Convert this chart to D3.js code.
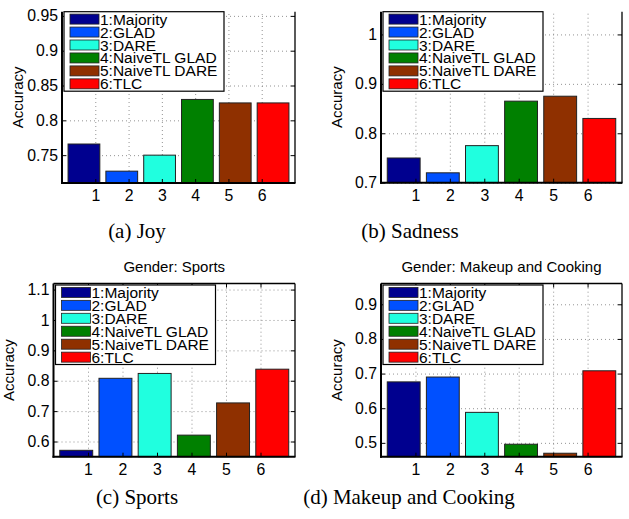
<!DOCTYPE html>
<html>
<head>
<meta charset="utf-8">
<script src="https://cdn.jsdelivr.net/npm/d3@7"></script>
<style>
  body { margin: 0; background: #fff; }
  svg { display: block; }
  text { font-family: "Liberation Sans", Arial, Helvetica, sans-serif; fill: #000; }
  .caption { font-family: "Liberation Serif", "Times New Roman", serif; }
</style>
</head>
<body>
<svg id="fig" width="629" height="519"></svg>
<script>
// ---- data ----
const methods = ['1:Majority', '2:GLAD', '3:DARE', '4:NaiveTL GLAD', '5:NaiveTL DARE', '6:TLC'];
const xTickLabels = ['1', '2', '3', '4', '5', '6'];

const joyAcc     = [0.766, 0.727, 0.750, 0.830, 0.825, 0.825];
const sadnessAcc = [0.750, 0.720, 0.775, 0.865, 0.875, 0.830];
const sportsAcc  = [0.571, 0.808, 0.824, 0.621, 0.727, 0.838];
const makeupAcc  = [0.676, 0.690, 0.588, 0.496, 0.470, 0.708];

const joyTicks     = [0.75, 0.8, 0.85, 0.9, 0.95];
const sadnessTicks = [0.7, 0.8, 0.9, 1];
const sportsTicks  = [0.6, 0.7, 0.8, 0.9, 1, 1.1];
const makeupTicks  = [0.5, 0.6, 0.7, 0.8, 0.9];

const joyLim     = [0.71, 0.956];
const sadnessLim = [0.70, 1.046];
const sportsLim  = [0.55, 1.12];
const makeupLim  = [0.46, 0.96];

const captions = ['(a) Joy', '(b) Sadness', '(c) Sports', '(d) Makeup and Cooking'];
const titles   = ['', '', 'Gender: Sports', 'Gender: Makeup and Cooking'];

// matlab-ish bar colours
const colors = ['#00008f', '#0050ff', '#20ffdf', '#008000', '#8f3000', '#ff0000'];

// panel boxes (top of a/b is cropped in the source figure)
const panels = [
  { vals: joyAcc,     ticks: joyTicks,     lim: joyLim,     x0: 62,  x1: 295, y0: 11.7,  y1: 183,   crop: true,  capX: 137, capY: 238 },
  { vals: sadnessAcc, ticks: sadnessTicks, lim: sadnessLim, x0: 381, x1: 622, y0: 11.7,  y1: 182.7, crop: true,  capX: 410, capY: 238 },
  { vals: sportsAcc,  ticks: sportsTicks,  lim: sportsLim,  x0: 53.5,x1: 295, y0: 283.5, y1: 456.7, crop: false, capX: 137, capY: 504 },
  { vals: makeupAcc,  ticks: makeupTicks,  lim: makeupLim,  x0: 381, x1: 622, y0: 283.5, y1: 456.7, crop: false, capX: 409, capY: 504 }
];

const svg = d3.select('#fig');

panels.forEach((p, i) => {
  const g = svg.append('g');
  const w = p.x1 - p.x0;
  const h = p.y1 - p.y0;

  const y = d3.scaleLinear().domain(p.lim).range([p.y1, p.y0]);
  // tick positions sit on 0..7, bars are spread a bit wider
  const xTick = d3.scaleLinear().domain([0, 7]).range([p.x0, p.x1]);
  const xBar = d3.scaleBand().domain(d3.range(6)).range([p.x0, p.x1]).padding(0.16);

  // grid
  g.append('g')
    .attr('transform', `translate(${p.x0},0)`)
    .call(d3.axisLeft(y).tickValues(p.ticks).tickSize(-w).tickFormat(''))
    .call(a => a.select('.domain').remove())
    .call(a => a.selectAll('line').attr('stroke', '#777').attr('stroke-dasharray', '1,3').attr('stroke-width', 0.8));
  g.append('g')
    .attr('transform', `translate(0,${p.y1})`)
    .call(d3.axisBottom(xTick).tickValues([1, 2, 3, 4, 5, 6]).tickSize(-h).tickFormat(''))
    .call(a => a.select('.domain').remove())
    .call(a => a.selectAll('line').attr('stroke', '#777').attr('stroke-dasharray', '1,3').attr('stroke-width', 0.8));

  // bars
  g.selectAll('rect.bar')
    .data(p.vals)
    .join('rect')
    .attr('class', 'bar')
    .attr('x', (d, j) => xBar(j))
    .attr('width', xBar.bandwidth())
    .attr('y', d => y(d))
    .attr('height', d => y(p.lim[0]) - y(d))
    .attr('fill', (d, j) => colors[j])
    .attr('stroke', '#222')
    .attr('stroke-width', 1);

  // axes: inward ticks like matlab
  const yAx = g.append('g')
    .attr('transform', `translate(${p.x0},0)`)
    .call(d3.axisLeft(y).tickValues(p.ticks).tickSizeInner(-4).tickSizeOuter(0).tickPadding(4).tickFormat(d3.format('')));
  yAx.select('.domain').remove();
  yAx.selectAll('text').style('font-size', '15.8px');

  const yAxR = g.append('g')
    .attr('transform', `translate(${p.x1},0)`)
    .call(d3.axisRight(y).tickValues(p.ticks).tickSizeInner(-4).tickSizeOuter(0).tickFormat(''));
  yAxR.select('.domain').remove();

  const xAx = g.append('g')
    .attr('transform', `translate(0,${p.y1})`)
    .call(d3.axisBottom(xTick).tickValues([1, 2, 3, 4, 5, 6]).tickSizeInner(-4).tickSizeOuter(0).tickPadding(7)
      .tickFormat((d, k) => xTickLabels[k]));
  xAx.select('.domain').remove();
  xAx.selectAll('text').style('font-size', '15.8px');

  if (!p.crop) {
    g.append('g')
      .attr('transform', `translate(0,${p.y0})`)
      .call(d3.axisTop(xTick).tickValues([1, 2, 3, 4, 5, 6]).tickSizeInner(-4).tickSizeOuter(0).tickFormat(''))
      .select('.domain').remove();
  }

  // box
  g.append('line').attr('x1', p.x0).attr('x2', p.x0).attr('y1', p.y0).attr('y2', p.y1 + 1)
    .attr('stroke', '#000').attr('stroke-width', 2);
  g.append('line').attr('x1', p.x0 - 1).attr('x2', p.x1 + 0.5).attr('y1', p.y1).attr('y2', p.y1)
    .attr('stroke', '#000').attr('stroke-width', 2);
  g.append('line').attr('x1', p.x1).attr('x2', p.x1).attr('y1', p.y0).attr('y2', p.y1)
    .attr('stroke', '#000').attr('stroke-width', 1.3);
  if (!p.crop) {
    g.append('line').attr('x1', p.x0).attr('x2', p.x1).attr('y1', p.y0).attr('y2', p.y0)
      .attr('stroke', '#000').attr('stroke-width', 1.3);
  }

  // y label
  g.append('text')
    .attr('transform', `translate(${p.x0 - 45},${(p.y0 + p.y1) / 2}) rotate(-90)`)
    .attr('text-anchor', 'middle')
    .attr('dominant-baseline', 'central')
    .style('font-size', '15px')
    .text('Accuracy');

  // title
  if (titles[i]) {
    g.append('text')
      .attr('x', (p.x0 + p.x1) / 2)
      .attr('y', p.y0 - 12)
      .attr('text-anchor', 'middle')
      .style('font-size', '15px')
      .text(titles[i]);
  }

  // legend
  const lx = p.x0 + 2;
  const ly = p.crop ? p.y0 : p.y0 + 1.5;
  const leg = g.append('g').attr('transform', `translate(${lx},${ly})`);
  leg.append('rect').attr('width', 160).attr('height', 79.5)
    .attr('fill', '#fff').attr('stroke', '#000').attr('stroke-width', 1.2);
  const rows = leg.selectAll('g.row').data(methods).join('g')
    .attr('class', 'row')
    .attr('transform', (d, j) => `translate(0,${7.4 + j * 12.95})`);
  rows.append('rect')
    .attr('x', 6).attr('y', -5).attr('width', 29).attr('height', 10)
    .attr('fill', (d, j) => colors[j]).attr('stroke', '#222').attr('stroke-width', 0.8);
  rows.append('text')
    .attr('x', 36).attr('y', 0)
    .attr('dominant-baseline', 'central')
    .style('font-size', '15.5px')
    .text(d => d);

  // caption
  svg.append('text')
    .attr('class', 'caption')
    .attr('x', p.capX)
    .attr('y', p.capY)
    .attr('text-anchor', 'middle')
    .style('font-size', '21px')
    .text(captions[i]);
});
</script>
</body>
</html>
